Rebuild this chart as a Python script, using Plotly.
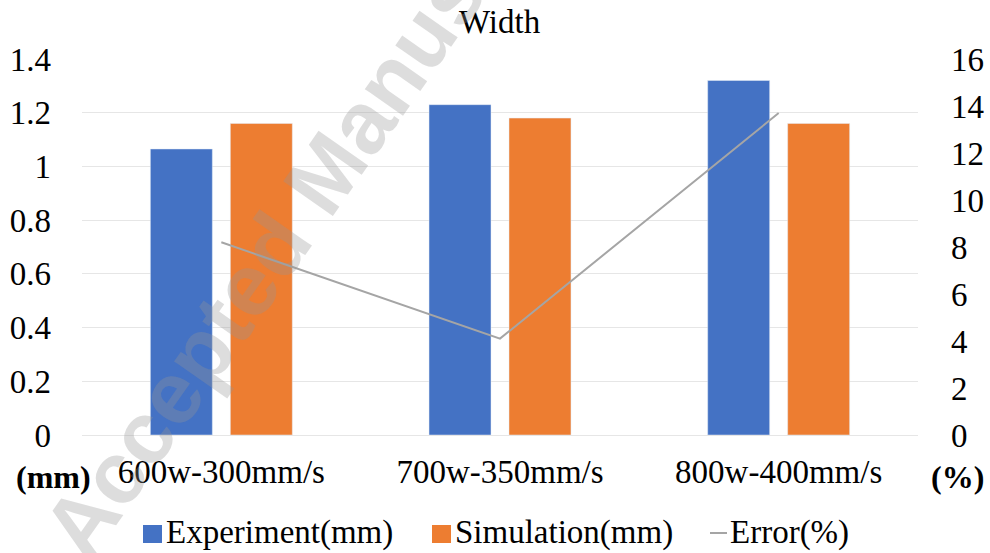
import plotly.graph_objects as go

# Process settings and measured widths
categories = ["600w-300mm/s", "700w-350mm/s", "800w-400mm/s"]
experiment_mm = [1.065, 1.23, 1.32]
simulation_mm = [1.16, 1.18, 1.16]
error_pct = [8.2, 4.1, 13.7]

left_ticks = [0, 0.2, 0.4, 0.6, 0.8, 1, 1.2, 1.4]
left_tick_text = ["0", "0.2", "0.4", "0.6", "0.8", "1", "1.2", "1.4"]
right_ticks = [0, 2, 4, 6, 8, 10, 12, 14, 16]

BLUE = "#4472C4"
ORANGE = "#ED7D31"
GREY = "#A5A5A5"
FONT = "Liberation Serif, Times New Roman, serif"

W, H = 990, 553
ML, MR, MT, MB = 82, 72, 59, 118
PW, PH = W - ML - MR, H - MT - MB


def px(x):
    return (x - ML) / PW


def py(y):
    return (H - MB - y) / PH


fig = go.Figure()
fig.add_trace(go.Bar(x=categories, y=experiment_mm, name="Experiment(mm)",
                     marker_color=BLUE, showlegend=False))
fig.add_trace(go.Bar(x=categories, y=simulation_mm, name="Simulation(mm)",
                     marker_color=ORANGE, showlegend=False))
fig.add_trace(go.Scatter(x=categories, y=error_pct, name="Error(%)", yaxis="y2",
                         mode="lines", line=dict(color=GREY, width=2),
                         showlegend=False))

annotations = [
    dict(text="Width", x=0.5, xref="paper", y=py(22), yref="paper",
         showarrow=False, font=dict(family=FONT, size=33, color="#000"),
         xanchor="center", yanchor="middle"),
    dict(text="<b>(mm)</b>", x=px(53), xref="paper", y=py(477), yref="paper",
         showarrow=False, font=dict(family=FONT, size=32, color="#000"),
         xanchor="center", yanchor="middle"),
    dict(text="<b>(%)</b>", x=px(957), xref="paper", y=py(477), yref="paper",
         showarrow=False, font=dict(family=FONT, size=32, color="#000"),
         xanchor="center", yanchor="middle"),
]

# Legend drawn as shapes plus labels
shapes = []
legend_items = [
    ("rect", BLUE, 143, "Experiment(mm)"),
    ("rect", ORANGE, 432, "Simulation(mm)"),
    ("line", GREY, 710, "Error(%)"),
]
for kind, color, x0, label in legend_items:
    if kind == "rect":
        shapes.append(dict(type="rect", xref="paper", yref="paper",
                           x0=px(x0), x1=px(x0 + 19), y0=py(543), y1=py(525),
                           fillcolor=color, line=dict(width=0)))
        tx = x0 + 21
    else:
        shapes.append(dict(type="line", xref="paper", yref="paper",
                           x0=px(x0), x1=px(x0 + 17), y0=py(533), y1=py(533),
                           line=dict(color=color, width=2)))
        tx = x0 + 18
    annotations.append(dict(text=label, x=px(tx), xref="paper", y=py(532),
                            yref="paper", showarrow=False, xanchor="left",
                            yanchor="middle",
                            font=dict(family=FONT, size=33, color="#000")))

# Diagonal watermark
annotations.append(dict(text="Accepted Manuscript", x=px(318), xref="paper",
                        y=py(183), yref="paper", showarrow=False,
                        textangle=-55, xanchor="center", yanchor="middle",
                        font=dict(family="Liberation Sans, Arial, sans-serif",
                                  size=88, weight=700,
                                  color="rgba(150,150,150,0.32)")))

fig.update_layout(
    width=W, height=H,
    margin=dict(l=ML, r=MR, t=MT, b=MB, autoexpand=False),
    paper_bgcolor="white", plot_bgcolor="white",
    barmode="group", bargap=0.426, bargroupgap=0.225,
    font=dict(family=FONT, size=33, color="#000"),
    xaxis=dict(showgrid=False, showline=False, zeroline=False, ticks="",
               automargin=False,
               tickfont=dict(family=FONT, size=33, color="#000"),
               ticklabelstandoff=14),
    yaxis=dict(range=[0, 1.4], tickvals=left_ticks, ticktext=left_tick_text,
               showgrid=True, gridcolor="#E6E6E6", gridwidth=1,
               zeroline=True, zerolinecolor="#E6E6E6", zerolinewidth=1,
               showline=False, ticks="", automargin=False,
               tickfont=dict(family=FONT, size=33, color="#000"),
               ticklabelstandoff=30),
    yaxis2=dict(range=[0, 16], tickvals=right_ticks, overlaying="y",
                side="right", showgrid=False, zeroline=False, showline=False,
                ticks="", automargin=False,
                tickfont=dict(family=FONT, size=33, color="#000"),
                ticklabelstandoff=32),
    annotations=annotations,
    shapes=shapes,
    showlegend=False,
)

fig.write_html("out.html")
